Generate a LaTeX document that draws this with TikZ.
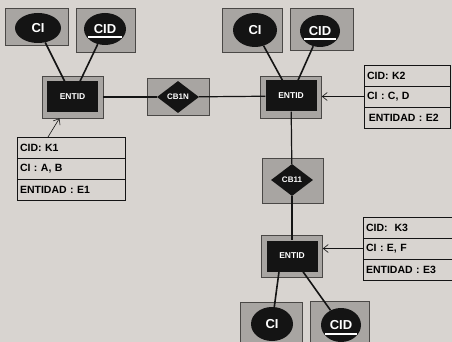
\documentclass[tikz,border=0pt]{standalone}
\usepackage{fontspec}
\setmainfont{Liberation Sans}
\usetikzlibrary{positioning,arrows.meta,calc,shapes.geometric}
\definecolor{paper}{HTML}{D8D4D0}
\definecolor{shade}{HTML}{A8A5A2}
\definecolor{rim}{HTML}{4A4846}
\definecolor{ink}{HTML}{141414}

\begin{document}
\begin{tikzpicture}[x=1pt,y=-1pt,
  box/.style={draw=rim, fill=shade, line width=0.6pt},
  attr/.style={ellipse, fill=ink, text=white, inner sep=0pt, font=\bfseries\fontsize{13}{13}\selectfont},
  entframe/.style={box, minimum width=61pt, minimum height=42pt, inner sep=0pt},
  ent/.style={fill=ink, text=white, minimum width=51pt, minimum height=31pt, inner sep=0pt, font=\bfseries\fontsize{8.5}{9}\selectfont},
  rel/.style={diamond, fill=ink, text=white, minimum width=42pt, minimum height=32pt, inner sep=0pt, font=\bfseries\fontsize{8}{8}\selectfont},
  cell/.style={draw=ink, line width=0.8pt, outer sep=0pt, inner xsep=3pt, minimum height=21pt, align=left, font=\bfseries\fontsize{10.5}{11}\selectfont},
  link/.style={draw=ink, line width=1.6pt},
  line/.style={draw=ink, line width=1.2pt},
  pointer/.style={draw=ink, line width=0.6pt, -{Straight Barb[length=5pt,width=8pt]}}
]
\fill[paper] (0,0) rectangle (452,342);
\useasboundingbox (0,0) rectangle (452,342);

% frames of the attributes and relations
\draw[box] (5,8) rectangle (68,45);
\draw[box] (76,8) rectangle (135,52);
\draw[box] (222,8) rectangle (282,52);
\draw[box] (290,8) rectangle (353,50);
\draw[box] (147,78) rectangle (209,115);
\draw[box] (262,158) rectangle (323,203);
\draw[box] (240,302) rectangle (302,350);
\draw[box] (310,301) rectangle (369,350);

% attributes
\node[attr, minimum width=46pt, minimum height=30pt] (ci1) at (38,28) {CI};
\node[attr, minimum width=42pt, minimum height=32pt] (cid1) at (105,29) {CID};
\node[attr, minimum width=44pt, minimum height=34pt] (ci2) at (255,30) {CI};
\node[attr, minimum width=40pt, minimum height=32pt] (cid2) at (320,31) {CID};
\node[attr, minimum width=42pt, minimum height=34pt] (ci3) at (272,324) {CI};
\node[attr, minimum width=40pt, minimum height=34pt] (cid3) at (341,325) {CID};
\draw[white, line width=1.4pt] ($(cid1.center)+(-17,8)$) -- ($(cid1.center)+(17,8)$);
\draw[white, line width=1.4pt] ($(cid2.center)+(-16,8)$) -- ($(cid2.center)+(16,8)$);
\draw[white, line width=1.4pt] ($(cid3.center)+(-16,9)$) -- ($(cid3.center)+(16,9)$);

% entities
\node[entframe] (e1f) at (72.5,97) {};
\node[ent] (e1) at (72.5,97) {ENTID};
\node[entframe] (e2f) at (291,97) {};
\node[ent] (e2) at (291,96) {ENTID};
\node[entframe] (e3f) at (292,256) {};
\node[ent] (e3) at (292,256) {ENTID};

% relations
\node[rel] (d1) at (178,97) {CB1N};
\node[rel] (d2) at (292,180) {CB11};

% tables
\node[cell, text width=102pt, anchor=north west] (k1a) at (17,137) {CID: K1};
\node[cell, text width=102pt, below=0pt of k1a] (k1b) {CI : A, B};
\node[cell, text width=102pt, below=0pt of k1b] (k1c) {ENTIDAD : E1};
\node[cell, text width=80pt, anchor=north west] (k2a) at (364,65) {CID: K2};
\node[cell, text width=80pt, below=0pt of k2a] (k2b) {CI : C, D};
\node[cell, text width=80pt, below=0pt of k2b] (k2c) {\,ENTIDAD : E2};
\node[cell, text width=86pt, anchor=north west] (k3a) at (363,217) {CID:\ \ K3};
\node[cell, text width=86pt, below=0pt of k3a] (k3b) {CI\ : E, F};
\node[cell, text width=86pt, below=0pt of k3b] (k3c) {ENTIDAD : E3};
\coordinate (k1foot) at ($(k1a.north west)+(31,0)$);

% connectors
\draw[link] (ci1) -- (e1);
\draw[link] (cid1) -- (e1);
\draw[link] (ci2) -- (e2);
\draw[link] (cid2) -- (e2);
\draw[link] ([xshift=-13pt]e3.south) -- (ci3);
\draw[link] ([xshift=11pt]e3.south) -- (cid3);
\draw[line] (e1f) -- (d1);
\draw[line] (d1) -- (e2);
\draw[line] (e2) -- (d2);
\draw[line] (d2) -- (e3);
\draw[pointer] (k1foot) -- (e1f);
\draw[pointer] (k2b.west) -- (k2b.west -| e2f.east);
\draw[pointer] (k3b.west) -- (k3b.west -| e3f.east);
\end{tikzpicture}
\end{document}
